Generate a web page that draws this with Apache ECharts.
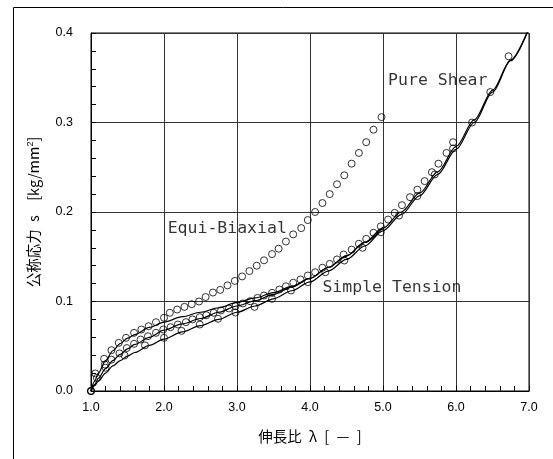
<!DOCTYPE html>
<html>
<head>
<meta charset="utf-8">
<script src="https://cdn.jsdelivr.net/npm/echarts@6.0.0/dist/echarts.min.js"></script>
<style>
  html, body { margin: 0; padding: 0; background: #fff; }
  #chart { width: 553px; height: 459px; }
</style>
</head>
<body>
<div id="chart"></div>
<script>
// measured points [lambda, s]
const equiBiaxialPts = [
  [1.0, 0], [1.06, 0.0196], [1.18, 0.036], [1.28, 0.0456], [1.38, 0.0538], [1.48, 0.0594],
  [1.59, 0.065], [1.69, 0.0687], [1.79, 0.0724], [1.89, 0.0769], [2.0, 0.0818], [2.08, 0.0874],
  [2.18, 0.091], [2.28, 0.094], [2.38, 0.097], [2.48, 0.100], [2.57, 0.105], [2.67, 0.110],
  [2.77, 0.113], [2.87, 0.118], [2.97, 0.123], [3.07, 0.128], [3.17, 0.134], [3.27, 0.140],
  [3.37, 0.146], [3.48, 0.153], [3.57, 0.159], [3.67, 0.167], [3.77, 0.175], [3.88, 0.182],
  [3.97, 0.191], [4.07, 0.200], [4.17, 0.210], [4.27, 0.220], [4.37, 0.231], [4.47, 0.241],
  [4.57, 0.254], [4.67, 0.266], [4.77, 0.278], [4.87, 0.292], [4.98, 0.306]
];
const pureShearPts = [
  [1.0, 0], [1.08, 0.0147], [1.19, 0.0296], [1.28, 0.035], [1.39, 0.042], [1.49, 0.048],
  [1.59, 0.0527], [1.68, 0.0575], [1.78, 0.0612], [1.89, 0.065], [1.99, 0.0687], [2.09, 0.0713],
  [2.19, 0.0743], [2.30, 0.0769], [2.39, 0.080], [2.49, 0.0825], [2.58, 0.0847], [2.68, 0.0874],
  [2.78, 0.090], [2.89, 0.0922], [2.98, 0.0948], [3.08, 0.0978], [3.18, 0.1003], [3.28, 0.104],
  [3.37, 0.1067], [3.48, 0.1097], [3.58, 0.1134], [3.67, 0.117], [3.77, 0.121], [3.87, 0.1246],
  [3.97, 0.129], [4.07, 0.1327], [4.17, 0.1377], [4.27, 0.142], [4.37, 0.147], [4.46, 0.1525],
  [4.57, 0.158], [4.67, 0.1645], [4.77, 0.170], [4.87, 0.1768], [4.97, 0.184], [5.07, 0.1916],
  [5.16, 0.199], [5.26, 0.2076], [5.37, 0.2166], [5.47, 0.225], [5.57, 0.2345], [5.67, 0.2445],
  [5.76, 0.254], [5.87, 0.266], [5.96, 0.278]
];
const simpleTensionPts = [
  [1.0, 0], [1.20, 0.026], [1.46, 0.0397], [1.74, 0.051], [2.0, 0.0594], [2.24, 0.0672],
  [2.49, 0.0743], [2.74, 0.0807], [2.98, 0.0877], [3.24, 0.094], [3.48, 0.103], [3.74, 0.1123],
  [3.97, 0.1216], [4.21, 0.1327], [4.47, 0.1458], [4.72, 0.160], [4.97, 0.1774], [5.22, 0.196],
  [5.47, 0.2177], [5.71, 0.242], [5.96, 0.271], [6.22, 0.300], [6.47, 0.334], [6.72, 0.374]
];

// model curves
const fitLambda = [1.0, 1.05, 1.1, 1.2, 1.3, 1.4, 1.5, 1.6, 1.8, 2.0, 2.25, 2.5, 2.75, 3.0, 3.25, 3.5,
  3.75, 4.0, 4.25, 4.5, 4.75, 5.0, 5.25, 5.5, 5.75, 6.0, 6.25, 6.5, 6.75, 7.0];
const fitEquiBiaxial = [0, 0.011, 0.020, 0.034, 0.045, 0.053, 0.059, 0.063, 0.071, 0.077, 0.083, 0.088,
  0.093, 0.099, 0.104, 0.110, 0.117, 0.126, 0.138, 0.151, 0.166, 0.183];
const fitPureShear = [0, 0.0075, 0.014, 0.025, 0.034, 0.041, 0.047, 0.052, 0.060, 0.068, 0.075, 0.081,
  0.088, 0.095, 0.101, 0.108, 0.116, 0.126, 0.138, 0.151, 0.166, 0.182, 0.200, 0.221, 0.245,
  0.273, 0.303, 0.336, 0.370, 0.406];
const fitSimpleTension = [0, 0.006, 0.011, 0.020, 0.028, 0.034, 0.039, 0.043, 0.051, 0.058, 0.066, 0.073,
  0.080, 0.088, 0.095, 0.103, 0.112, 0.122, 0.134, 0.147, 0.162, 0.179, 0.197, 0.218, 0.242,
  0.270, 0.300, 0.334, 0.369, 0.405];

const annotations = [
  { text: 'Pure Shear', at: [5.07, 0.347] },
  { text: 'Equi-Biaxial', at: [2.05, 0.1816] },
  { text: 'Simple Tension', at: [4.17, 0.1156] }
];

const latin = 'Liberation Sans, Arial, Noto Sans CJK JP, sans-serif';
const gap = '\u2002';
const toPairs = (ys) => ys.map((y, i) => [fitLambda[i], y]);

function fitSeries(ys) {
  return {
    type: 'line', data: toPairs(ys), smooth: 0.3, smoothMonotone: 'x', showSymbol: false, z: 3,
    lineStyle: { color: '#000', width: 1.2 }, emphasis: { disabled: true }
  };
}
function pointSeries(pts) {
  return {
    type: 'scatter', data: pts, symbol: 'circle', symbolSize: 7, clip: false, z: 4,
    itemStyle: { color: 'rgba(0,0,0,0)', borderColor: '#000', borderWidth: 1 },
    emphasis: { disabled: true }
  };
}

const axisCommon = {
  type: 'value',
  axisLine: { show: true, onZero: false, lineStyle: { color: '#000', width: 1 } },
  axisTick: { show: true, inside: true, length: 5, lineStyle: { color: '#000' } },
  minorTick: { show: true, splitNumber: 5, length: 5, lineStyle: { color: '#000' } },
  splitLine: { show: true, lineStyle: { color: '#333', width: 1 } },
  axisLabel: { color: '#000', fontSize: 12.5, fontFamily: latin, formatter: (v) => v.toFixed(1) },
  nameLocation: 'middle',
  nameTextStyle: { color: '#000', fontSize: 14.5, fontFamily: 'Noto Sans CJK JP, sans-serif' }
};

const chart = echarts.init(document.getElementById('chart'));
chart.setOption({
  animation: false,
  backgroundColor: '#fff',
  grid: { left: 91, right: 24, top: 33, bottom: 68, show: true, borderColor: '#000', borderWidth: 1 },
  xAxis: Object.assign({}, axisCommon, {
    min: 1, max: 7, interval: 1,
    name: '伸長比' + gap + 'λ' + gap + '[' + gap + '—' + gap + ']', nameGap: 38,
    axisLabel: Object.assign({}, axisCommon.axisLabel, { margin: 10 })
  }),
  yAxis: Object.assign({}, axisCommon, {
    min: 0, max: 0.4, interval: 0.1,
    name: '公称応力' + gap + 's' + gap + gap + '[kg/mm{sup|2}]', nameGap: 50,
    axisLabel: Object.assign({}, axisCommon.axisLabel, { margin: 18 }),
    nameTextStyle: Object.assign({}, axisCommon.nameTextStyle, {
      rich: { sup: { fontSize: 9, verticalAlign: 'top', fontFamily: latin, color: '#000' } }
    })
  }),
  graphic: [{
    type: 'rect', silent: true,
    shape: { x: 13.5, y: 7.5, width: 700, height: 600 },
    style: { fill: 'none', stroke: '#000', lineWidth: 1 }
  }],
  series: [
    fitSeries(fitEquiBiaxial),
    fitSeries(fitPureShear),
    fitSeries(fitSimpleTension),
    pointSeries(equiBiaxialPts),
    pointSeries(pureShearPts),
    pointSeries(simpleTensionPts),
    {
      type: 'scatter', symbolSize: 0, silent: true, z: 5,
      data: annotations.map((a) => ({ value: a.at, name: a.text })),
      label: {
        show: true, position: 'right', distance: 0, formatter: '{b}',
        fontFamily: 'DejaVu Sans Mono, monospace', fontSize: 16.5, color: '#000'
      }
    }
  ]
});
</script>
</body>
</html>
